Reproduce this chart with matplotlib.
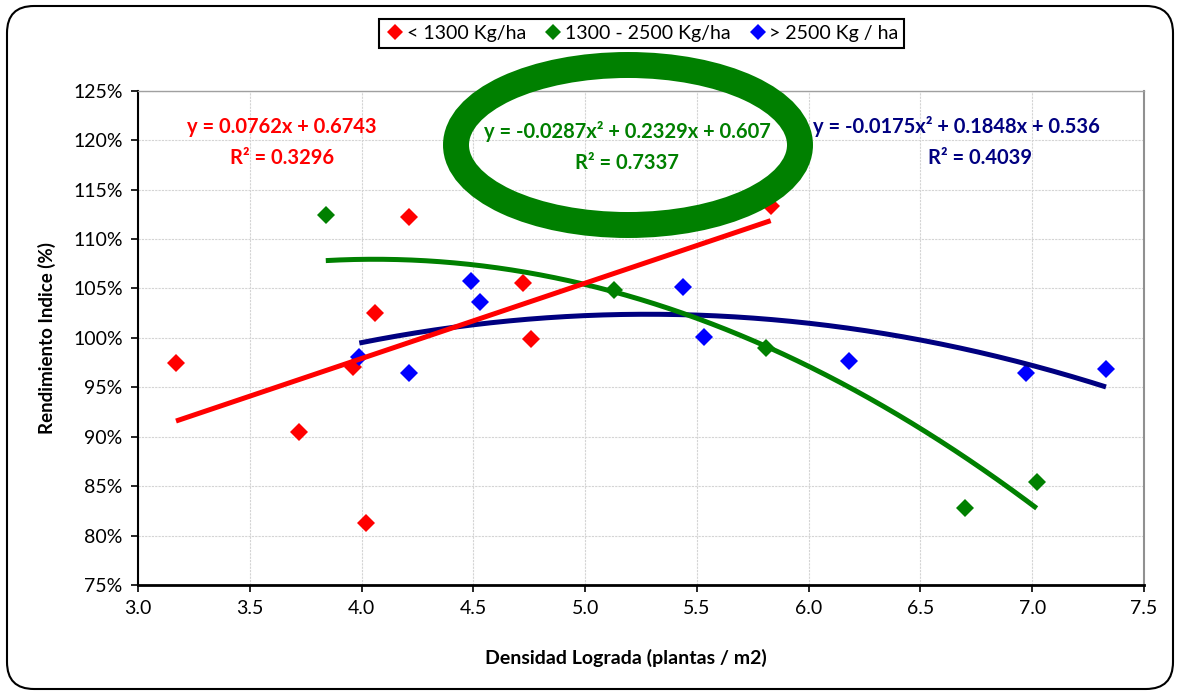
import numpy as np
import matplotlib
matplotlib.use("Agg")
import matplotlib.pyplot as plt
from matplotlib.patches import Ellipse, FancyBboxPatch
from matplotlib.lines import Line2D
from matplotlib.transforms import IdentityTransform

plt.rcParams['font.family'] = ['Lato', 'DejaVu Sans']

# series: x = density (plants/m2), y = yield index (%)
labels = ['< 1300 Kg/ha', '1300 - 2500 Kg/ha', '> 2500 Kg / ha']
colors = ['#FF0000', '#008000', '#0000FF']
trend_colors = ['#FF0000', '#008000', '#000080']

low_x = [3.17, 3.72, 3.96, 4.02, 4.06, 4.21, 4.72, 4.76, 5.83]
low_y = [97.5, 90.5, 97.1, 81.3, 102.5, 112.2, 105.5, 99.9, 113.3]
mid_x = [3.84, 5.13, 5.81, 6.70, 7.02]
mid_y = [112.4, 104.8, 99.0, 82.8, 85.4]
high_x = [3.99, 4.21, 4.49, 4.53, 5.44, 5.53, 6.18, 6.97, 7.33]
high_y = [98.1, 96.4, 105.8, 103.6, 105.1, 100.1, 97.7, 96.4, 96.8]

# excel trendline coefficients (highest power first, y as fraction)
low_coef = [0.0762, 0.6743]
mid_coef = [-0.0287, 0.2329, 0.607]
high_coef = [-0.0175, 0.1848, 0.536]

eq_texts = [('y = 0.0762x + 0.6743', 'R² = 0.3296'),
            ('y = -0.0287x² + 0.2329x + 0.607', 'R² = 0.7337'),
            ('y = -0.0175x² + 0.1848x + 0.536', 'R² = 0.4039')]
eq_pos = [(3.644, 121.3, 3.644, 118.2),
          (5.187, 120.9, 5.187, 117.7),
          (6.661, 121.4, 6.766, 118.2)]

xticks = np.arange(3.0, 7.51, 0.5)
yticks = np.arange(75, 126, 5)

fig = plt.figure(figsize=(11.79, 6.91), dpi=100)
ax = fig.add_axes([0.11705, 0.1534, 0.85326, 0.71534])

series = [(low_x, low_y, low_coef), (mid_x, mid_y, mid_coef), (high_x, high_y, high_coef)]
for i, (xs, ys, coef) in enumerate(series):
  ax.plot(xs, ys, linestyle='none', marker='D', ms=9.5, color=colors[i],
          markeredgewidth=0, zorder=3)
for i, (xs, ys, coef) in reversed(list(enumerate(series))):
  xx = np.linspace(min(xs), max(xs), 200)
  ax.plot(xx, np.polyval(coef, xx) * 100, color=trend_colors[i], lw=3.6,
          solid_capstyle='butt', zorder=4)

for i, (l1, l2) in enumerate(eq_texts):
  x1, y1, x2, y2 = eq_pos[i]
  ax.text(x1, y1, l1, color=trend_colors[i], fontsize=14.5, fontweight='bold',
          ha='center', va='center', zorder=5)
  ax.text(x2, y2, l2, color=trend_colors[i], fontsize=14.5, fontweight='bold',
          ha='center', va='center', zorder=5)

ax.set_xlim(3.0, 7.5)
ax.set_ylim(75, 125)
ax.set_xticks(xticks)
ax.set_xticklabels(['%.1f' % v for v in xticks])
ax.set_yticks(yticks)
ax.set_yticklabels(['%d%%' % v for v in yticks])
ax.tick_params(axis='both', direction='out', length=5, width=1.2, labelsize=14,
               color='black', pad=6)
ax.grid(True, color='#D4D4D4', linestyle=(0, (2, 1)), lw=0.8)
ax.set_axisbelow(True)
ax.spines['left'].set_linewidth(1.5)
ax.spines['bottom'].set_linewidth(2)
ax.spines['top'].set_color('#A0A0A0')
ax.spines['top'].set_linewidth(1)
ax.spines['right'].set_color('#909090')
ax.spines['right'].set_linewidth(1.5)

ax.set_xlabel('Densidad Lograda (plantas / m2)', fontsize=14, fontweight='bold', va='center')
ax.xaxis.set_label_coords(0.485, -0.1477)
ax.set_ylabel('Rendimiento Indice (%)', fontsize=13.5, fontweight='bold', va='center')
ax.yaxis.set_label_coords(-0.0905, 0.5)

handles = [Line2D([], [], linestyle='none', marker='D', ms=8, color=c, markeredgewidth=0)
           for c in colors]
leg = fig.legend(handles, labels, loc='center', bbox_to_anchor=(0.5445, 0.952), ncol=3,
                 frameon=True, fancybox=False, edgecolor='black', framealpha=1,
                 borderpad=0.3, handletextpad=0.1, columnspacing=0.9, handlelength=1.0,
                 fontsize=14)
leg.get_frame().set_linewidth(1.5)

# big green ring around the middle equation
ring = Ellipse((628 / 1179, 1 - 145 / 691), 344 / 1179, 160 / 691,
               transform=fig.transFigure, fill=False, ec='#008000', lw=18.7, zorder=10)
fig.add_artist(ring)

# rounded outer border (pixel coords)
border = FancyBboxPatch((7, 2), 1166, 683, boxstyle='round,pad=0,rounding_size=27',
                        transform=IdentityTransform(), fill=False, ec='black', lw=1.5)
fig.add_artist(border)

fig.savefig('out.png', dpi=100)
